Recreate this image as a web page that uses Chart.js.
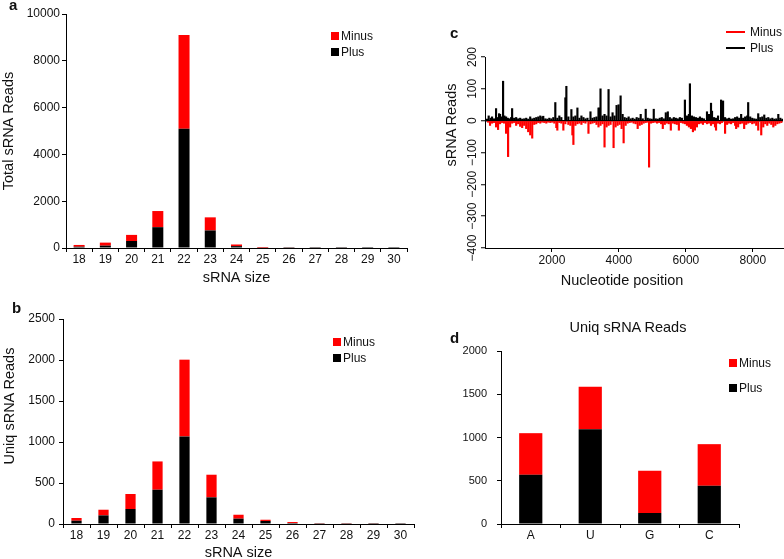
<!DOCTYPE html>
<html>
<head>
<meta charset="utf-8">
<script src="https://cdn.jsdelivr.net/npm/chart.js@4.4.0/dist/chart.umd.min.js"></script>
<style>
html, body { margin: 0; padding: 0; background: #fff; overflow: hidden; }
body { width: 784px; height: 559px; position: relative; font-family: 'Liberation Sans', Arial, Helvetica, sans-serif; color: #111; }
canvas { position: absolute; }
.tag { position: absolute; font-weight: bold; font-size: 15px; line-height: 15px; }
.legend { position: absolute; font-size: 12px; display: flex; flex-direction: column; }
.legend .row { display: flex; align-items: center; height: 12px; line-height: 12px; white-space: nowrap; }
.sw.box { display: inline-block; width: 8px; height: 8px; margin-right: 2px; }
.sw.line { display: inline-block; width: 19px; height: 1.5px; margin-right: 5px; }
.vtitle { position: absolute; width: 200px; height: 18px; line-height: 18px; text-align: center; font-size: 14.5px; transform: rotate(-90deg); }
.htitle { position: absolute; width: 240px; height: 18px; line-height: 18px; text-align: center; font-size: 14.5px; }
</style>
</head>
<body>
<canvas id="chartA" width="412" height="292" style="left:0;top:0"></canvas>
<canvas id="chartB" width="420" height="290" style="left:0;top:280px"></canvas>
<canvas id="chartC" width="348" height="292" style="left:436px;top:0"></canvas>
<canvas id="chartD" width="344" height="269" style="left:440px;top:290px"></canvas>

<div class="tag" style="left:9px;top:-3px">a</div>
<div class="tag" style="left:12px;top:300px">b</div>
<div class="tag" style="left:450px;top:25px">c</div>
<div class="tag" style="left:450px;top:330px">d</div>

<div class="vtitle" style="left:-91px;top:397px">Uniq sRNA Reads</div>
<div class="vtitle" style="left:351px;top:116px">sRNA Reads</div>
<div class="htitle" style="left:502px;top:271px">Nucleotide position</div>
<div class="htitle" style="left:508px;top:318px">Uniq sRNA Reads</div>

<div class="legend" id="legA" style="left:331px;top:30px;gap:4px"></div>
<div class="legend" id="legB" style="left:333px;top:336px;gap:4px"></div>
<div class="legend" id="legC" style="left:726px;top:26px;gap:4px"></div>
<div class="legend" id="legD" style="left:729px;top:357px;gap:13px"></div>

<script>
// panel a / b : sRNA size distribution
const sizeLabels = ['18', '19', '20', '21', '22', '23', '24', '25', '26', '27', '28', '29', '30'];
const totalPlus  = [55, 100, 300, 890, 5100, 750, 80, 15, 5, 2, 2, 1, 1];
const totalMinus = [75, 130, 260, 690, 4000, 560, 70, 25, 5, 2, 2, 1, 1];
const uniqPlus   = [40, 105, 183, 418, 1068, 325, 65, 37, 12, 2, 2, 1, 1];
const uniqMinus  = [33, 69, 183, 345, 936, 276, 48, 15, 12, 3, 3, 2, 1];
const totalTicks = [0, 2000, 4000, 6000, 8000, 10000];
const uniqTicks  = [0, 500, 1000, 1500, 2000, 2500];

// panel c : reads along the genome
const plusPos = [60, 110, 170, 210, 270, 330, 370, 420, 450, 500, 540, 580, 630, 680, 720, 780, 810, 870, 930, 990,
  1050, 1110, 1170, 1230, 1290, 1350, 1410, 1470, 1530, 1590, 1650, 1710, 1740, 1800, 1860, 1920, 1980, 2040, 2100, 2160,
  2220, 2280, 2400, 2430, 2490, 2580, 2640, 2700, 2760, 2820, 2880, 2940, 3000, 3060, 3150, 3210, 3270, 3330, 3390, 3420,
  3450, 3510, 3570, 3630, 3690, 3750, 3810, 3870, 3930, 3990, 4050, 4110, 4170, 4230, 4290, 4350, 4410, 4470, 4530, 4590,
  4650, 4710, 4800, 4860, 4920, 4980, 5040, 5100, 5160, 5220, 5280, 5340, 5400, 5460, 5520, 5580, 5640, 5700, 5760, 5820,
  5880, 5970, 6030, 6090, 6120, 6180, 6240, 6300, 6360, 6420, 6480, 6540, 6630, 6690, 6750, 6780, 6840, 6900, 6960, 7050,
  7110, 7170, 7230, 7290, 7350, 7410, 7470, 7530, 7590, 7650, 7710, 7770, 7830, 7860, 7920, 7980, 8040, 8100, 8160, 8220,
  8280, 8340, 8400, 8460, 8520, 8580, 8640, 8700, 8760, 8820, 8880];
const plusVal = [5, 15, 8, 12, 6, 38, 10, 22, 20, 12, 124, 15, 12, 8, 6, 10, 38, 8, 10, 6,
  8, 5, 6, 8, 5, 12, 6, 8, 10, 12, 15, 12, 14, 6, 5, 8, 6, 10, 57, 8,
  15, 10, 72, 108, 12, 35, 12, 15, 40, 8, 15, 10, 6, 8, 28, 8, 10, 12, 40, 40,
  100, 15, 20, 15, 98, 12, 25, 15, 48, 50, 78, 20, 10, 8, 12, 6, 8, 5, 10, 8,
  20, 6, 36, 8, 6, 5, 36, 6, 5, 8, 10, 6, 25, 28, 10, 6, 10, 8, 6, 10,
  8, 65, 15, 20, 116, 15, 12, 10, 8, 12, 8, 6, 28, 20, 55, 30, 10, 8, 15, 65,
  62, 10, 6, 8, 5, 6, 10, 12, 8, 20, 8, 12, 15, 57, 12, 8, 6, 5, 22, 10,
  12, 18, 8, 10, 6, 8, 5, 6, 20, 8, 5];
const minusPos = [90, 150, 210, 270, 330, 390, 450, 510, 570, 630, 690, 750, 810, 870, 930, 990, 1050, 1110, 1170, 1230,
  1290, 1350, 1410, 1470, 1530, 1590, 1650, 1710, 1770, 1830, 1890, 1950, 2010, 2070, 2130, 2160, 2220, 2280, 2340, 2400,
  2490, 2550, 2610, 2640, 2700, 2760, 2820, 2880, 2940, 3000, 3090, 3150, 3210, 3270, 3330, 3390, 3450, 3510, 3570, 3630,
  3690, 3750, 3840, 3900, 3960, 4020, 4080, 4140, 4200, 4260, 4320, 4380, 4440, 4500, 4560, 4620, 4680, 4740, 4800, 4860,
  4900, 4960, 5020, 5080, 5140, 5200, 5260, 5310, 5370, 5430, 5490, 5550, 5610, 5670, 5730, 5790, 5850, 5910, 5970, 6030,
  6090, 6150, 6210, 6270, 6330, 6390, 6450, 6510, 6570, 6630, 6690, 6750, 6810, 6870, 6900, 6960, 7020, 7080, 7170, 7230,
  7290, 7350, 7410, 7470, 7500, 7560, 7620, 7680, 7740, 7800, 7860, 7920, 7980, 8040, 8100, 8160, 8250, 8310, 8370, 8430,
  8490, 8550, 8610, 8670, 8730, 8790, 8850];
const minusVal = [-5, -15, -8, -6, -20, -28, -10, -6, -8, -40, -113, -20, -8, -6, -15, -10, -18, -22, -15, -25,
  -35, -45, -55, -12, -10, -6, -8, -5, -6, -8, -5, -6, -5, -8, -22, -30, -6, -8, -30, -10,
  -12, -15, -45, -75, -15, -10, -8, -12, -6, -8, -40, -10, -8, -6, -12, -20, -15, -10, -83, -20,
  -15, -12, -85, -20, -15, -12, -25, -70, -15, -8, -6, -5, -8, -10, -25, -15, -12, -8, -6, -5,
  -146, -8, -6, -5, -8, -6, -10, -25, -12, -8, -10, -30, -8, -10, -12, -30, -6, -8, -10, -15,
  -20, -25, -35, -30, -20, -10, -8, -12, -6, -10, -8, -15, -10, -20, -30, -8, -10, -6, -40, -12,
  -8, -10, -6, -15, -25, -20, -10, -8, -25, -12, -8, -6, -10, -8, -15, -30, -45, -20, -10, -15,
  -8, -12, -20, -15, -10, -8, -6];
const posTicks = [2000, 4000, 6000, 8000];
const readTicks = [-400, -300, -200, -100, 0, 100, 200];

// panel d : first nucleotide
const baseLabels = ['A', 'U', 'G', 'C'];
const basePlus  = [569, 1096, 127, 442];
const baseMinus = [481, 491, 488, 481];
const baseTicks = [0, 500, 1000, 1500, 2000];

const chartColors = { plus: '#000000', minus: '#ff0000', axis: '#000000' };

Chart.defaults.font.family = "'Liberation Sans', Arial, Helvetica, sans-serif";
Chart.defaults.color = '#111';
Chart.defaults.animation = false;
Chart.defaults.plugins.legend.display = false;
Chart.defaults.plugins.tooltip.enabled = false;

function stackedBars(id, labels, plus, minus, o) {
    return new Chart(document.getElementById(id), {
        type: 'bar',
        data: {
            labels: labels,
            datasets: [
                { label: 'Plus', data: plus, backgroundColor: chartColors.plus },
                { label: 'Minus', data: minus, backgroundColor: chartColors.minus }
            ]
        },
        options: {
            responsive: false,
            layout: { padding: o.pad },
            datasets: { bar: { barPercentage: o.barPct, categoryPercentage: 1 } },
            scales: {
                x: {
                    stacked: true,
                    offset: true,
                    grid: { offset: true, drawOnChartArea: false, color: chartColors.axis, tickLength: 4 },
                    border: { color: chartColors.axis },
                    ticks: { font: { size: 12 }, padding: o.xPad, maxRotation: 0, autoSkip: false },
                    title: o.xTitle
                        ? { display: true, text: o.xTitle, color: '#111', font: { size: 14.5 }, padding: { top: 0, bottom: o.xTitlePad } }
                        : { display: false },
                    afterFit: s => { s.height = o.xHeight; }
                },
                y: {
                    stacked: true,
                    min: 0,
                    max: o.yTicks[o.yTicks.length - 1],
                    afterBuildTicks: s => { s.ticks = o.yTicks.map(v => ({ value: v })); },
                    grid: { drawOnChartArea: false, color: chartColors.axis, tickLength: 4 },
                    border: { color: chartColors.axis },
                    ticks: { font: { size: o.yFont }, padding: o.yPad, callback: v => String(v) },
                    title: o.yTitle
                        ? { display: true, text: o.yTitle, color: '#111', font: { size: 14.5 }, padding: { top: 0, bottom: 0 } }
                        : { display: false },
                    afterFit: s => { s.width = o.yWidth; }
                }
            }
        }
    });
}

function htmlLegend(elId, chart, order, kind) {
    const el = document.getElementById(elId);
    order.forEach(i => {
        const ds = chart.data.datasets[i];
        const row = document.createElement('div');
        row.className = 'row';
        const sw = document.createElement('span');
        sw.className = 'sw ' + kind;
        sw.style.background = ds.backgroundColor;
        row.appendChild(sw);
        row.appendChild(document.createTextNode(ds.label));
        el.appendChild(row);
    });
}

// a
const chartA = stackedBars('chartA', sizeLabels, totalPlus, totalMinus, {
    pad: { left: 0, top: 14, right: 5, bottom: 0 },
    barPct: 0.42, xPad: 0, xHeight: 44, xTitle: 'sRNA size', xTitlePad: 5,
    yTicks: totalTicks, yFont: 12, yPad: 2, yWidth: 66, yTitle: 'Total sRNA Reads'
});
htmlLegend('legA', chartA, [1, 0], 'box');

// b
const chartB = stackedBars('chartB', sizeLabels, uniqPlus, uniqMinus, {
    pad: { left: 0, top: 39, right: 6, bottom: 0 },
    barPct: 0.38, xPad: 0, xHeight: 46, xTitle: 'sRNA size', xTitlePad: 8,
    yTicks: uniqTicks, yFont: 12, yPad: 4, yWidth: 63, yTitle: null
});
htmlLegend('legB', chartB, [1, 0], 'box');

// c
const chartC = new Chart(document.getElementById('chartC'), {
    type: 'bar',
    data: {
        datasets: [
            { label: 'Minus', data: minusPos.map((x, i) => ({ x: x, y: minusVal[i] })), backgroundColor: chartColors.minus },
            { label: 'Plus', data: plusPos.map((x, i) => ({ x: x, y: plusVal[i] })), backgroundColor: chartColors.plus }
        ]
    },
    options: {
        responsive: false,
        layout: { padding: { left: 0, top: 57, right: 1, bottom: 0 } },
        datasets: { bar: { barThickness: 1.5, grouped: false } },
        scales: {
            x: {
                type: 'linear',
                min: 0,
                max: 8900,
                offset: false,
                afterBuildTicks: s => { s.ticks = posTicks.map(v => ({ value: v })); },
                grid: { offset: false, drawOnChartArea: false, color: chartColors.axis, tickLength: 4 },
                border: { color: chartColors.axis },
                ticks: { font: { size: 12 }, padding: 1, maxRotation: 0, callback: v => String(v) },
                afterFit: s => { s.height = 44; }
            },
            y: {
                min: -400,
                max: 200,
                afterBuildTicks: s => { s.ticks = readTicks.map(v => ({ value: v })); },
                grid: {
                    color: c => (c.tick && c.tick.value === 0 ? '#000' : 'rgba(0,0,0,0)'),
                    lineWidth: 1.5,
                    tickColor: chartColors.axis,
                    tickWidth: 1,
                    tickLength: 4
                },
                border: { color: chartColors.axis },
                ticks: {
                    font: { size: 12 },
                    minRotation: 90,
                    maxRotation: 90,
                    crossAlign: 'center',
                    padding: -5.5,
                    callback: v => (v < 0 ? '\u2212' + Math.abs(v) : String(v))
                },
                afterFit: s => { s.width = 49; }
            }
        }
    }
});
htmlLegend('legC', chartC, [0, 1], 'line');

// d
const chartD = stackedBars('chartD', baseLabels, basePlus, baseMinus, {
    pad: { left: 0, top: 61, right: 45, bottom: 0 },
    barPct: 0.39, xPad: 0, xHeight: 35, xTitle: null, xTitlePad: 0,
    yTicks: baseTicks, yFont: 11, yPad: 10, yWidth: 61, yTitle: null
});
htmlLegend('legD', chartD, [1, 0], 'box');
</script>
</body>
</html>
